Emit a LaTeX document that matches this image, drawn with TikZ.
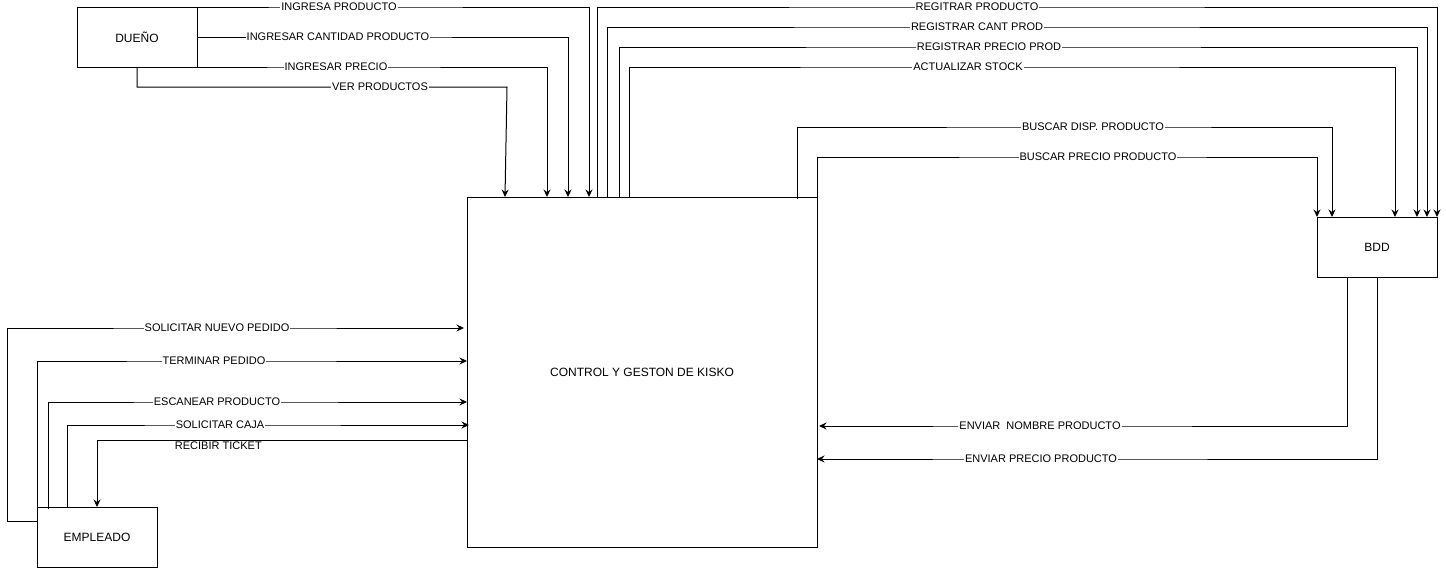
\documentclass[tikz,border=0pt]{standalone}
\usepackage{fontspec}
\setmainfont{Liberation Sans}
\usetikzlibrary{arrows.meta}
\begin{document}
\begin{tikzpicture}[x=1pt,y=-1pt,
  box/.style={draw, line width=1pt, minimum width=120pt, minimum height=60pt, inner sep=0pt, outer sep=0pt, font=\fontsize{12}{14}\selectfont},
  flow/.style={draw, line width=1pt, -{Stealth[length=7.5pt,width=7pt,inset=2.5pt]}},
  lbl/.style={fill=white, inner sep=1pt, font=\fontsize{11}{13}\selectfont}]
\useasboundingbox (0,0) rectangle (1446,568);
\node[box] (duenio) at (137,37) {DUEÑO};
\node[box, minimum width=350pt, minimum height=350pt] (ctrl) at (642,372) {CONTROL Y GESTON DE KISKO};
\node[box] (bdd) at (1377,247) {BDD};
\node[box] (emp) at (97,537) {EMPLEADO};
% DUENO -> CONTROL
\draw[flow] (duenio.north east) -- (339,7) node[lbl]{INGRESA PRODUCTO} -| ([xshift=122pt]ctrl.north west);
\draw[flow] (duenio.east) -- (338,37) node[lbl]{INGRESAR CANTIDAD PRODUCTO} -| ([xshift=101pt]ctrl.north west);
\draw[flow] (duenio.south east) -- (336,67) node[lbl]{INGRESAR PRECIO} -| ([xshift=80pt]ctrl.north west);
\draw[flow] (duenio.south) |- (380,87) node[lbl]{VER PRODUCTOS} -- (507,87) -- ([xshift=38pt]ctrl.north west);
% CONTROL -> BDD
\draw[flow] ([xshift=130pt]ctrl.north west) |- (977,7) node[lbl]{REGITRAR PRODUCTO} -| (bdd.north east);
\draw[flow] ([xshift=140pt]ctrl.north west) |- (977,27) node[lbl]{REGISTRAR CANT PROD} -| ([xshift=-10pt]bdd.north east);
\draw[flow] ([xshift=152pt]ctrl.north west) |- (989,47) node[lbl]{REGISTRAR PRECIO PROD} -| ([xshift=-20pt]bdd.north east);
\draw[flow] ([xshift=162pt]ctrl.north west) |- (968,67) node[lbl]{ACTUALIZAR STOCK} -| ([xshift=-42pt]bdd.north east);
\draw[flow] ([xshift=330pt,yshift=-2pt]ctrl.north west) |- (1093,127) node[lbl]{BUSCAR DISP. PRODUCTO} -| ([xshift=15pt]bdd.north west);
\draw[flow] (ctrl.north east) |- (1098,157) node[lbl]{BUSCAR PRECIO PRODUCTO} -| (bdd.north west);
% EMPLEADO <-> CONTROL
\draw[flow] ([yshift=16pt]emp.west) -- ++(-30,0) |- (217,328) node[lbl]{SOLICITAR NUEVO PEDIDO} -- ([xshift=-3pt,yshift=44pt]ctrl.west);
\draw[flow] (emp.north west) |- (214,361) node[lbl]{TERMINAR PEDIDO} -- ([yshift=11pt]ctrl.west);
\draw[flow] ([xshift=11pt,yshift=-2pt]emp.north west) |- (217,402) node[lbl]{ESCANEAR PRODUCTO} -- ([yshift=-30pt]ctrl.west);
\draw[flow] ([xshift=30pt]emp.north west) |- (220,425) node[lbl]{SOLICITAR CAJA} -- ([xshift=2pt,yshift=-53pt]ctrl.west);
\draw[flow] ([yshift=-68pt]ctrl.west) -| node[pos=0.336, font=\fontsize{11}{13}\selectfont, inner sep=0pt, anchor=north, yshift=-1pt]{RECIBIR TICKET} (emp.north);
% BDD -> CONTROL
\draw[flow] ([xshift=-30pt]bdd.south) |- (1040,426) node[lbl]{ENVIAR\ \ NOMBRE PRODUCTO} -- ([xshift=2pt,yshift=-54pt]ctrl.east);
\draw[flow] (bdd.south) |- (1041,459) node[lbl]{ENVIAR PRECIO PRODUCTO} -- ([yshift=-87pt]ctrl.east);
\end{tikzpicture}
\end{document}
